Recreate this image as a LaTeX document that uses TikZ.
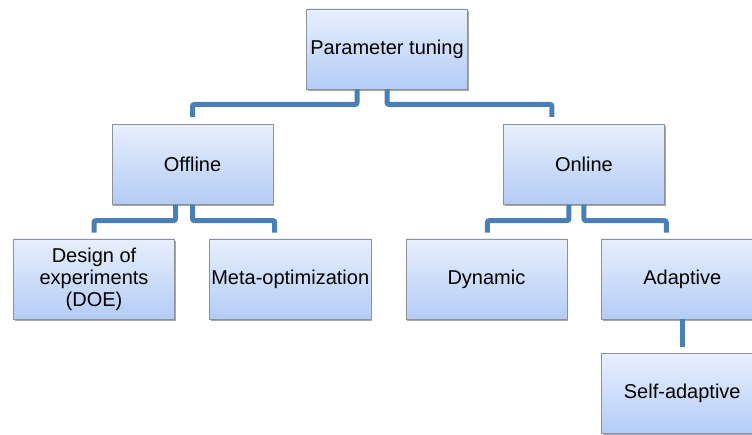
\documentclass[tikz,border=0pt]{standalone}
\usepackage{fontspec}
\setmainfont{Liberation Sans}
\usepackage{xcolor}
\usepackage{tikz}
\usetikzlibrary{positioning,shadows,calc}
\definecolor{boxtop}{HTML}{E8EFFC}
\definecolor{boxbot}{HTML}{B3CCF6}
\definecolor{boxline}{HTML}{8E9196}
\definecolor{linkblue}{HTML}{4A7EB7}
\tikzset{
  box/.style ={rectangle, draw=boxline, line width=0.8pt, top color=boxtop,
               bottom color=boxbot, align=center, inner sep=2pt,
               minimum width=161pt, minimum height=80pt,
               font=\fontsize{20}{22}\selectfont,
               drop shadow={shadow xshift=1.2pt, shadow yshift=-1.8pt,
                            fill=black, opacity=0.35}},
  link/.style={draw=linkblue, line width=5pt, rounded corners=2pt},
}
\begin{document}
\begin{tikzpicture}[x=1pt, y=1pt, node distance=34pt and 34pt]
  \useasboundingbox (0,0) rectangle (752,-435);
  \node[box] (ptune) at (387,-49) {Parameter tuning};

  \node[box] (doe) at (94,-279) {Design of\\experiments\\(DOE)};
  \node[box, right=of doe] (meta) {Meta-optimization};
  \node[box, right=of meta] (dyn) {Dynamic};
  \node[box, right=of dyn] (adap) {Adaptive};
  \node[box, below=of adap] (selfad) {Self-adaptive};

  \node[box, above=of doe, xshift=98.5pt] (off) {Offline};
  \node[box, above=of dyn, xshift=97.5pt] (on) {Online};

  \draw[link] ([xshift=-30pt]ptune.south) -- ++(0,-15) -| ([yshift=7pt]off.north);
  \draw[link] (ptune.south) -- ++(0,-15) -| ([xshift=-32pt, yshift=7pt]on.north);
  \draw[link] ([xshift=-17pt]off.south) -- ++(0,-16) -| ([yshift=6pt]doe.north);
  \draw[link] (off.south) -- ++(0,-16) -| ([xshift=-15.5pt, yshift=6pt]meta.north);
  \draw[link] ([xshift=-15pt]on.south) -- ++(0,-16) -| ([xshift=1pt, yshift=6pt]dyn.north);
  \draw[link] (on.south) -- ++(0,-16) -| ([xshift=-16pt, yshift=6pt]adap.north);
  \draw[link, shorten >=6pt] (adap.south) -- (selfad.north);
\end{tikzpicture}
\end{document}
